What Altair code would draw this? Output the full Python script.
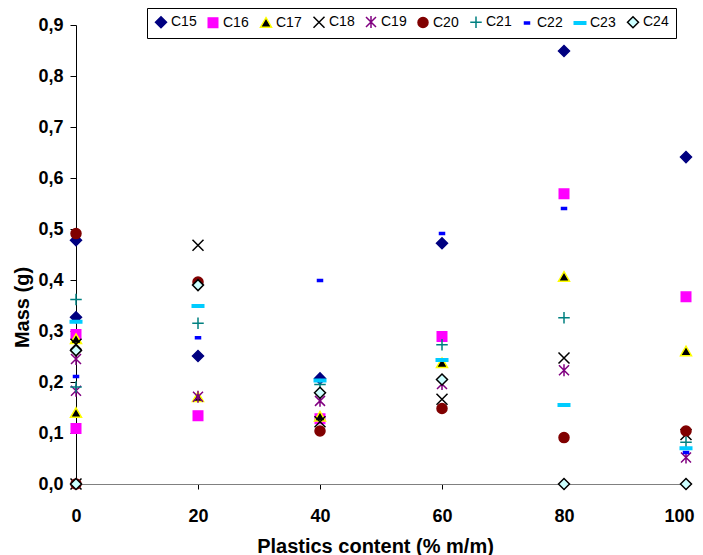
import altair as alt
import pandas as pd

# x positions (two samples at 0 %)
x_vals = [0, 0, 20, 40, 60, 80, 100]
series = ["C15", "C16", "C17", "C18", "C19", "C20", "C21", "C22", "C23", "C24"]

C15 = [0.478, 0.327, 0.251, 0.207, 0.472, 0.849, 0.641]
C16 = [0.293, 0.109, 0.134, 0.128, 0.289, 0.569, 0.367]
C17 = [0.284, 0.139, 0.170, 0.132, 0.237, 0.406, 0.260]
C18 = [0.274, 0.000, 0.468, 0.122, 0.166, 0.247, 0.097]
C19 = [0.245, 0.183, 0.171, 0.163, 0.196, 0.223, 0.052]
C20 = [0.491, 0.000, 0.396, 0.104, 0.148, 0.091, 0.104]
C21 = [0.362, 0.190, 0.315, 0.195, 0.273, 0.326, 0.082]
C22 = [0.211, None, 0.287, 0.399, 0.491, 0.540, 0.062]
C23 = [0.318, None, 0.349, 0.203, 0.243, 0.155, 0.070]
C24 = [0.262, 0.000, 0.390, 0.179, 0.205, 0.000, 0.000]

x_ticks = [0, 20, 40, 60, 80, 100]
y_ticks = [0.0, 0.1, 0.2, 0.3, 0.4, 0.5, 0.6, 0.7, 0.8, 0.9]

all_vals = [C15, C16, C17, C18, C19, C20, C21, C22, C23, C24]
rows = []
for name, vals in zip(series, all_vals):
    for x, v in zip(x_vals, vals):
        if v is not None:
            rows.append({"series": name, "x": x, "mass": v})
df = pd.DataFrame(rows)

shape_range = [
    "M-1.1,0L0,-1.1L1.1,0L0,1.1Z",
    "M-0.95,-0.95L0.95,-0.95L0.95,0.95L-0.95,0.95Z",
    "M0,-1.05L1.1,0.85L-1.1,0.85Z",
    "M-1.1,-1.1L1.1,1.1M-1.1,1.1L1.1,-1.1",
    "M-1,-1L1,1M-1,1L1,-1M0,-1.2L0,1.2",
    "circle",
    "M-1.15,0L1.15,0M0,-1.15L0,1.15",
    "M-0.5,-0.2L0.5,-0.2L0.5,0.2L-0.5,0.2Z",
    "M-1.15,-0.25L1.15,-0.25L1.15,0.25L-1.15,0.25Z",
    "M-1.1,0L0,-1.1L1.1,0L0,1.1Z",
]
stroke_range = ["#000080", "#FF00FF", "#FFFF00", "#000000", "#800080",
                "#800000", "#008080", "#0000FF", "#00CCFF", "#000000"]
fill_range = ["#000080", "#FF00FF", "#000000", "transparent", "transparent",
              "#800000", "transparent", "#0000FF", "#00CCFF", "#CCFFFF"]

chart = alt.Chart(df).mark_point(size=100, strokeWidth=1.5, opacity=1).encode(
    x=alt.X("x:Q",
            scale=alt.Scale(domain=[0, 100], nice=False, zero=False),
            axis=alt.Axis(values=x_ticks, title="Plastics content (% m/m)",
                          domainColor="#808080", tickSize=5, labelPadding=18,
                          labelFlush=False,
                          labelOffset={"condition": {"test": "datum.value == 100", "value": -7}, "value": 0},
                          titleX=299, titleY=68,
                          titleFontSize=20,
                          titleAlign="center", titleBaseline="alphabetic")),
    y=alt.Y("mass:Q",
            scale=alt.Scale(domain=[0, 0.9], nice=False),
            axis=alt.Axis(values=y_ticks, title="Mass (g)",
                          labelExpr="replace(format(datum.value, '.1f'), '.', ',')",
                          tickSize=6, labelPadding=7,
                          titleFontSize=20,
                          titleAngle=270, titleX=-48, titleY=282,
                          titleAlign="center", titleBaseline="alphabetic")),
    shape=alt.Shape("series:N", scale=alt.Scale(domain=series, range=shape_range), title=None),
    fill=alt.Fill("series:N", scale=alt.Scale(domain=series, range=fill_range), title=None),
    stroke=alt.Stroke("series:N", scale=alt.Scale(domain=series, range=stroke_range), title=None),
).properties(
    width=610, height=459,
    autosize=alt.AutoSizeParams(type="none"),
    padding={"left": 68, "top": 17, "right": 9, "bottom": 71},
).configure_view(
    stroke=None
).configure_axis(
    grid=False,
    labelFont="Liberation Sans", titleFont="Liberation Sans",
    labelFontWeight="bold", titleFontWeight="bold",
    labelFontSize=18, titleFontSize=18,
    labelColor="black", titleColor="black",
    tickColor="black", domainColor="black",
    labelOverlap=False,
).configure_legend(
    orient="none", legendX=71, legendY=-17,
    direction="horizontal", columns=10,
    padding=7, strokeColor="black", fillColor="white", cornerRadius=0,
    labelFont="Liberation Sans", labelFontSize=14, labelColor="black",
    symbolSize=100, symbolStrokeWidth=1.5, symbolOpacity=1,
    columnPadding=8, labelOffset=3,
)

chart.save("out.html", embed_options={"renderer": "svg", "actions": False})
